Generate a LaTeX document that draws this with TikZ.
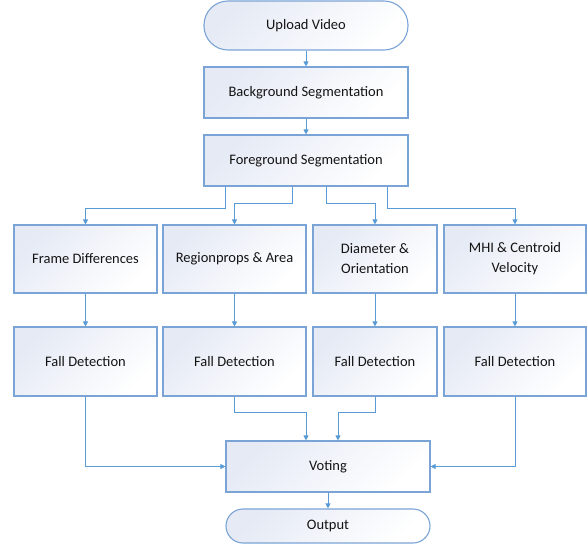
\documentclass[tikz,border=0pt]{standalone}
\usepackage{fontspec}
\setmainfont{Carlito}
\usetikzlibrary{arrows.meta,calc}
\definecolor{edgec}{HTML}{7AA3D6}
\definecolor{arrc}{HTML}{5B9BD5}
\definecolor{fillc}{HTML}{E5EAF5}
\definecolor{txtc}{HTML}{141414}
\tikzset{
  box/.style={draw=edgec, line width=1.1pt, top color=fillc, bottom color=white, shading angle=45,
    inner sep=0pt, align=center, text=txtc, font=\fontsize{14.5}{20}\selectfont},
  term/.style={box, rounded corners=#1},
  arr/.style={draw=arrc, line width=0.9pt, -{Triangle[length=5pt,width=5pt]}}
}
\begin{document}
\begin{tikzpicture}[x=1pt,y=-1pt]
\useasboundingbox (0,0) rectangle (587,548);
\node[term=24pt, minimum width=204pt, minimum height=49pt] (up) at (306,25.5) {Upload Video};
\node[box, minimum width=204pt, minimum height=51pt] (bg) at (306,92.5) {Background Segmentation};
\node[box, minimum width=204pt, minimum height=51pt] (fg) at (306,160.5) {Foreground Segmentation};
\node[box, minimum width=143pt, minimum height=68pt] (a1) at (85.5,259) {Frame Differences};
\node[box, minimum width=143pt, minimum height=68pt] (a2) at (234.5,259) {Regionprops \& Area};
\node[box, minimum width=124pt, minimum height=68pt] (a3) at (375,259) {Diameter \&\\Orientation};
\node[box, minimum width=142pt, minimum height=68pt] (a4) at (515,259) {MHI \& Centroid\\Velocity};
\node[box, minimum width=143pt, minimum height=69pt] (b1) at (85.5,361.5) {Fall Detection};
\node[box, minimum width=143pt, minimum height=69pt] (b2) at (234.5,361.5) {Fall Detection};
\node[box, minimum width=124pt, minimum height=69pt] (b3) at (375,361.5) {Fall Detection};
\node[box, minimum width=142pt, minimum height=69pt] (b4) at (515,361.5) {Fall Detection};
\node[box, minimum width=204pt, minimum height=51pt] (vote) at (328,466.5) {Voting};
\node[term=17pt, minimum width=204pt, minimum height=34pt] (out) at (328,526) {Output};

\draw[arr] (up) -- (bg);
\draw[arr] (bg) -- (fg);
\draw[arr] ([xshift=-81pt]fg.south) -- ++(0,22) -| (a1.north);
\draw[arr] ([xshift=-14pt]fg.south) -- ++(0,17) -| (a2.north);
\draw[arr] ([xshift=20pt]fg.south) -- ++(0,17) -| (a3.north);
\draw[arr] ([xshift=81pt]fg.south) -- ++(0,22) -| (a4.north);
\draw[arr] (a1) -- (b1);
\draw[arr] (a2) -- (b2);
\draw[arr] (a3) -- (b3);
\draw[arr] (a4) -- (b4);
\draw[arr] (b1.south) |- (vote.west);
\draw[arr] (b4.south) |- (vote.east);
\draw[arr] (b2.south) -- ++(0,16) -| ([xshift=-22pt]vote.north);
\draw[arr] (b3.south) -- ++(0,16) -| ([xshift=10pt]vote.north);
\draw[arr] (vote) -- (out);
\end{tikzpicture}
\end{document}
